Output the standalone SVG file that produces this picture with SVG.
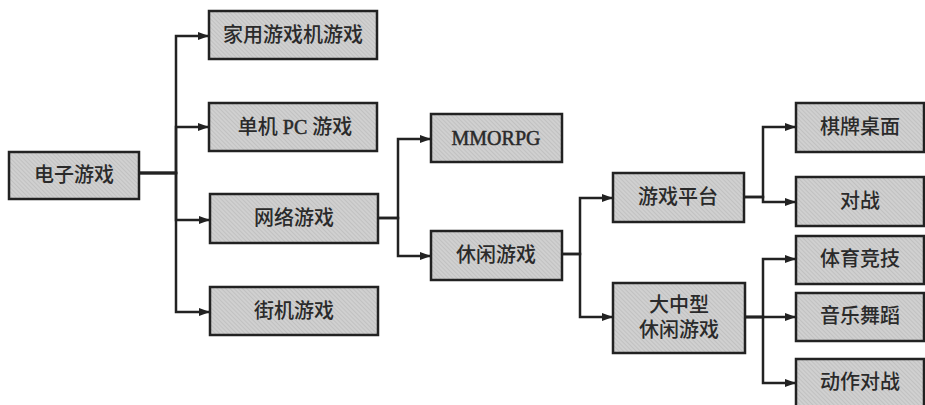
<svg xmlns="http://www.w3.org/2000/svg" width="925" height="405" viewBox="0 0 925 405">
  <defs>
    <pattern id="hatch" patternUnits="userSpaceOnUse" width="3" height="3" patternTransform="rotate(-45)">
      <rect width="3" height="3" fill="#d0d0d0"/>
      <line x1="0" y1="0" x2="0" y2="3" stroke="#b2b2b2" stroke-width="1"/>
    </pattern>
    <marker id="arrow" markerUnits="userSpaceOnUse" markerWidth="11" markerHeight="8" refX="11" refY="4" orient="auto">
      <path d="M0,0 L11,4 L0,8 z" fill="#222"/>
    </marker>
  </defs>
  <style>
    .box { fill: url(#hatch); stroke: #222; stroke-width: 2.5; }
    .lbl { font-family: "Liberation Serif", "Noto Sans CJK SC", serif; font-size: 20px; font-weight: 500; fill: #2a2a2a; text-anchor: middle; dominant-baseline: central; }
    .lat { stroke: #2a2a2a; stroke-width: 0.5; }
    .con { fill: none; stroke: #222; stroke-width: 2.5; }
  </style>
  <rect width="925" height="405" fill="#ffffff"/>

  <g id="connectors">
    <path class="con" d="M139,173 H176 V36 H209" marker-end="url(#arrow)"/>
    <path class="con" d="M139,173 H176 V127 H209" marker-end="url(#arrow)"/>
    <path class="con" d="M139,173 H176 V220 H210" marker-end="url(#arrow)"/>
    <path class="con" d="M139,173 H176 V312 H210" marker-end="url(#arrow)"/>

    <path class="con" d="M378,218 H398 V139 H431" marker-end="url(#arrow)"/>
    <path class="con" d="M378,218 H398 V256 H431" marker-end="url(#arrow)"/>

    <path class="con" d="M562,254 H580 V198 H613" marker-end="url(#arrow)"/>
    <path class="con" d="M562,254 H580 V317 H613" marker-end="url(#arrow)"/>

    <path class="con" d="M744,197 H763 V127 H796" marker-end="url(#arrow)"/>
    <path class="con" d="M744,197 H763 V202 H796" marker-end="url(#arrow)"/>

    <path class="con" d="M745,317 H763 V259 H796" marker-end="url(#arrow)"/>
    <path class="con" d="M745,317 H796" marker-end="url(#arrow)"/>
    <path class="con" d="M745,317 H763 V383 H796" marker-end="url(#arrow)"/>
  </g>

  <g id="n-dianzi">
    <rect class="box" x="9" y="152" width="130" height="47"/>
    <text class="lbl" x="74" y="175">电子游戏</text>
  </g>
  <g id="n-jiayong">
    <rect class="box" x="209" y="11" width="168" height="48"/>
    <text class="lbl" x="293" y="35">家用游戏机游戏</text>
  </g>
  <g id="n-danji">
    <rect class="box" x="209" y="103" width="168" height="48"/>
    <text class="lbl" x="295" y="127">单机 <tspan class="lat">PC</tspan> 游戏</text>
  </g>
  <g id="n-wangluo">
    <rect class="box" x="210" y="194" width="168" height="49"/>
    <text class="lbl" x="294" y="218">网络游戏</text>
  </g>
  <g id="n-jieji">
    <rect class="box" x="210" y="287" width="168" height="48"/>
    <text class="lbl" x="294" y="311">街机游戏</text>
  </g>
  <g id="n-mmorpg">
    <rect class="box" x="431" y="114" width="131" height="48"/>
    <text class="lbl lat" x="496" y="138">MMORPG</text>
  </g>
  <g id="n-xiuxian">
    <rect class="box" x="431" y="231" width="131" height="49"/>
    <text class="lbl" x="496" y="255">休闲游戏</text>
  </g>
  <g id="n-pingtai">
    <rect class="box" x="613" y="173" width="131" height="49"/>
    <text class="lbl" x="678" y="197">游戏平台</text>
  </g>
  <g id="n-dazhongxing">
    <rect class="box" x="613" y="283" width="132" height="70"/>
    <text class="lbl" x="679" y="305">大中型</text>
    <text class="lbl" x="679" y="330">休闲游戏</text>
  </g>
  <g id="n-qipai">
    <rect class="box" x="796" y="103" width="128" height="49"/>
    <text class="lbl" x="860" y="127">棋牌桌面</text>
  </g>
  <g id="n-duizhan">
    <rect class="box" x="796" y="177" width="128" height="49"/>
    <text class="lbl" x="860" y="201">对战</text>
  </g>
  <g id="n-tiyu">
    <rect class="box" x="796" y="236" width="128" height="48"/>
    <text class="lbl" x="860" y="259">体育竞技</text>
  </g>
  <g id="n-yinyue">
    <rect class="box" x="796" y="293" width="128" height="48"/>
    <text class="lbl" x="860" y="316">音乐舞蹈</text>
  </g>
  <g id="n-dongzuo">
    <rect class="box" x="796" y="359" width="128" height="50"/>
    <text class="lbl" x="860" y="382">动作对战</text>
  </g>
</svg>
